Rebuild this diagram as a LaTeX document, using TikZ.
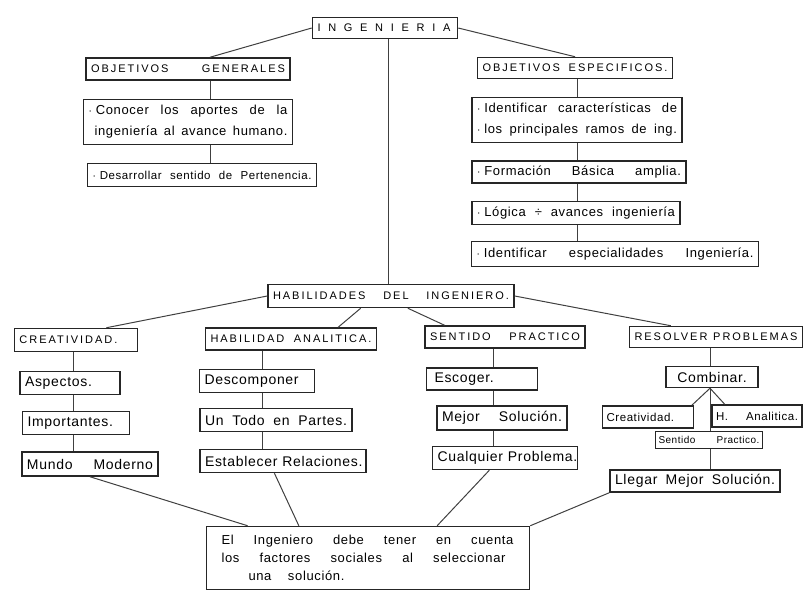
\documentclass[tikz,border=0pt]{standalone}
\usepackage{fontspec}
\setmainfont{Liberation Sans}[LetterSpace=5]
\newfontfamily\titulo[LetterSpace=18]{Liberation Sans}
\newfontfamily\tituloancho[LetterSpace=70]{Liberation Sans}
\usetikzlibrary{positioning}
% renglon estirado hasta el ancho dado
\newcommand{\estira}[2]{{\spaceskip=.35em plus 1fil\makebox[#1][s]{#2}}}
\newcommand{\lleno}[1]{\estira{\hsize}{#1}}
\newcommand{\punto}{$\cdot$\hspace{4pt}}

\begin{document}
\begin{tikzpicture}[x=1pt, y=-1pt,
    caja/.style={draw=black!85, line width=1.5pt, inner xsep=5pt, inner ysep=2pt,
      font=\fontsize{13}{21}\selectfont, align=left},
    cabeza/.style={caja, font=\titulo\fontsize{11}{12}\selectfont},
    chica/.style={font=\fontsize{11.5}{13}\selectfont},
    grande/.style={font=\fontsize{14}{16}\selectfont},
    linea/.style={draw=black!75, line width=1pt}]
  \useasboundingbox (0,0) rectangle (803,594);
  % raiz
  \node[cabeza, text width=135pt, minimum height=21pt, font=\tituloancho\fontsize{11}{12}\selectfont] (ing) at (385,28) {INGENIERIA};
  % objetivos generales
  \node[cabeza, text width=194pt, minimum height=22pt] (objgen) at (188,69) {OBJETIVOS\hfill GENERALES};
  \node[caja, text width=199pt, minimum height=45pt] (conocer) at (188,122)
    {\lleno{\punto Conocer los aportes de la}\\ \lleno{\hspace{6pt}ingeniería al avance humano.}};
  \node[caja, chica, text width=219pt, minimum height=23pt] (desarr) at (202,175)
    {\lleno{\punto Desarrollar sentido de Pertenencia.}};
  % objetivos especificos
  \node[cabeza, text width=185pt, minimum height=21pt] (objesp) at (575,68) {OBJETIVOS\hfill ESPECIFICOS.};
  \node[caja, text width=200pt, minimum height=45pt] (ident) at (577,120)
    {\lleno{\punto Identificar características de}\\ \lleno{\punto los principales ramos de ing.}};
  \node[caja, text width=204pt, minimum height=22pt] (formac) at (579,172)
    {\lleno{\punto Formación Básica amplia.}};
  \node[caja, text width=198pt, minimum height=23pt] (logica) at (576,213)
    {\lleno{\punto Lógica ÷ avances ingeniería}};
  \node[caja, text width=277pt, minimum height=25pt] (especi) at (615,254)
    {\lleno{\punto Identificar especialidades Ingeniería.}};
  % habilidades
  \node[cabeza, text width=236pt, minimum height=23pt] (habil) at (391,296) {HABILIDADES\hfill DEL\hfill INGENIERO.};
  \node[cabeza, text width=113pt, minimum height=23pt] (creat) at (76,340) {CREATIVIDAD.};
  \node[cabeza, text width=161pt, minimum height=22pt] (analit) at (291,339) {HABILIDAD\hfill ANALITICA.};
  \node[cabeza, text width=150pt, minimum height=22pt] (practi) at (505,337) {SENTIDO\hfill PRACTICO};
  \node[cabeza, text width=163pt, minimum height=21pt] (resolv) at (716,337) {RESOLVER\hfill PROBLEMAS};
  % creatividad
  \node[caja, grande, text width=90pt, minimum height=23pt] (aspect) at (70,383) {Aspectos.};
  \node[caja, grande, text width=97pt, minimum height=23pt] (import) at (76,423) {Importantes.};
  \node[caja, grande, text width=126pt, minimum height=24pt] (mundo) at (90,464) {\lleno{Mundo Moderno}};
  % habilidad analitica
  \node[caja, grande, text width=105pt, minimum height=23pt] (descom) at (257,381) {Descomponer};
  \node[caja, grande, text width=142pt, minimum height=23pt] (untodo) at (276,420) {\lleno{Un Todo en Partes.}};
  \node[caja, grande, text width=156pt, minimum height=23pt] (establ) at (283,461) {\lleno{Establecer Relaciones.}};
  % sentido practico
  \node[caja, grande, text width=95pt, minimum height=22pt, inner xsep=8pt] (escog) at (482,379) {Escoger.};
  \node[caja, grande, text width=120pt, minimum height=24pt] (mejor) at (502,418) {\lleno{Mejor Solución.}};
  \node[caja, grande, text width=135pt, minimum height=23pt] (cualq) at (505,458) {\lleno{Cualquier Problema.}};
  % resolver problemas
  \node[caja, grande, text width=82pt, minimum height=21pt, align=center] (combin) at (712,377) {Combinar.};
  \node[caja, chica, text width=83pt, inner xsep=4pt, minimum height=22pt] (creat2) at (648,417) {Creatividad.};
  \node[caja, chica, text width=82pt, inner xsep=4pt, minimum height=22pt] (hanal) at (757,416) {\lleno{H. Analitica.}};
  \node[caja, text width=101pt, inner xsep=3pt, inner ysep=1pt, minimum height=17pt,
    font=\fontsize{10}{11}\selectfont] (sprac) at (709,440) {\lleno{Sentido Practico.}};
  \node[caja, grande, text width=160pt, minimum height=22pt] (llegar) at (695,481) {\lleno{Llegar Mejor Solución.}};
  % conclusion
  \node[caja, text width=313pt, minimum height=63pt, font=\fontsize{13}{18}\selectfont] (final) at (368,558)
    {\hspace{10pt}\estira{292pt}{El Ingeniero debe tener en cuenta}\\
     \hspace{10pt}\estira{284pt}{los factores sociales al seleccionar}\\
     \hspace{37pt}\estira{96pt}{una solución.}};

  % ejes verticales
  \coordinate (xgen) at (210,0);
  \coordinate (xesp) at (577,0);
  \coordinate (xtron) at (388,0);
  \coordinate (xcre) at (73,0);
  \coordinate (xana) at (262,0);
  \coordinate (xpra) at (493,0);
  \coordinate (xres) at (710,0);
  \coordinate (junta) at (combin.south -| xres);

  % conectores
  \draw[linea] (ing.west) -- (objgen.north -| xgen);
  \draw[linea] (ing.east) -- (objesp.north);
  \draw[linea] (ing.south -| xtron) -- (habil.north -| xtron);
  \draw[linea] (objgen.south -| xgen) -- (conocer.north -| xgen);
  \draw[linea] (conocer.south -| xgen) -- (desarr.north -| xgen);
  \draw[linea] (objesp.south -| xesp) -- (ident.north -| xesp);
  \draw[linea] (ident.south -| xesp) -- (formac.north -| xesp);
  \draw[linea] (formac.south -| xesp) -- (logica.north -| xesp);
  \draw[linea] (logica.south -| xesp) -- (especi.north -| xesp);
  \draw[linea] (habil.west) -- (creat.22);
  \draw[linea] (habil.-158) -- (analit.14);
  \draw[linea] (habil.-36) -- (practi.169);
  \draw[linea] (habil.east) -- (resolv.166);
  \foreach \a/\b in {creat/aspect, aspect/import, import/mundo}
    \draw[linea] (\a.south -| xcre) -- (\b.north -| xcre);
  \foreach \a/\b in {analit/descom, descom/untodo, untodo/establ}
    \draw[linea] (\a.south -| xana) -- (\b.north -| xana);
  \foreach \a/\b in {practi/escog, escog/mejor, mejor/cualq}
    \draw[linea] (\a.south -| xpra) -- (\b.north -| xpra);
  \draw[linea] (resolv.south -| xres) -- (combin.north -| xres);
  \draw[linea] (junta) -- (creat2.15);
  \draw[linea] (junta) -- (hanal.160);
  \draw[linea] (junta) -- (sprac.north -| junta);
  \draw[linea] (sprac.south -| junta) -- (llegar.north -| junta);
  \draw[linea] (mundo.south) -- (final.165);
  \draw[linea] (establ.-125) -- (final.155);
  \draw[linea] (cualq.-142) -- (final.25);
  \draw[linea] (llegar.south west) -- (final.north east);
\end{tikzpicture}
\end{document}
